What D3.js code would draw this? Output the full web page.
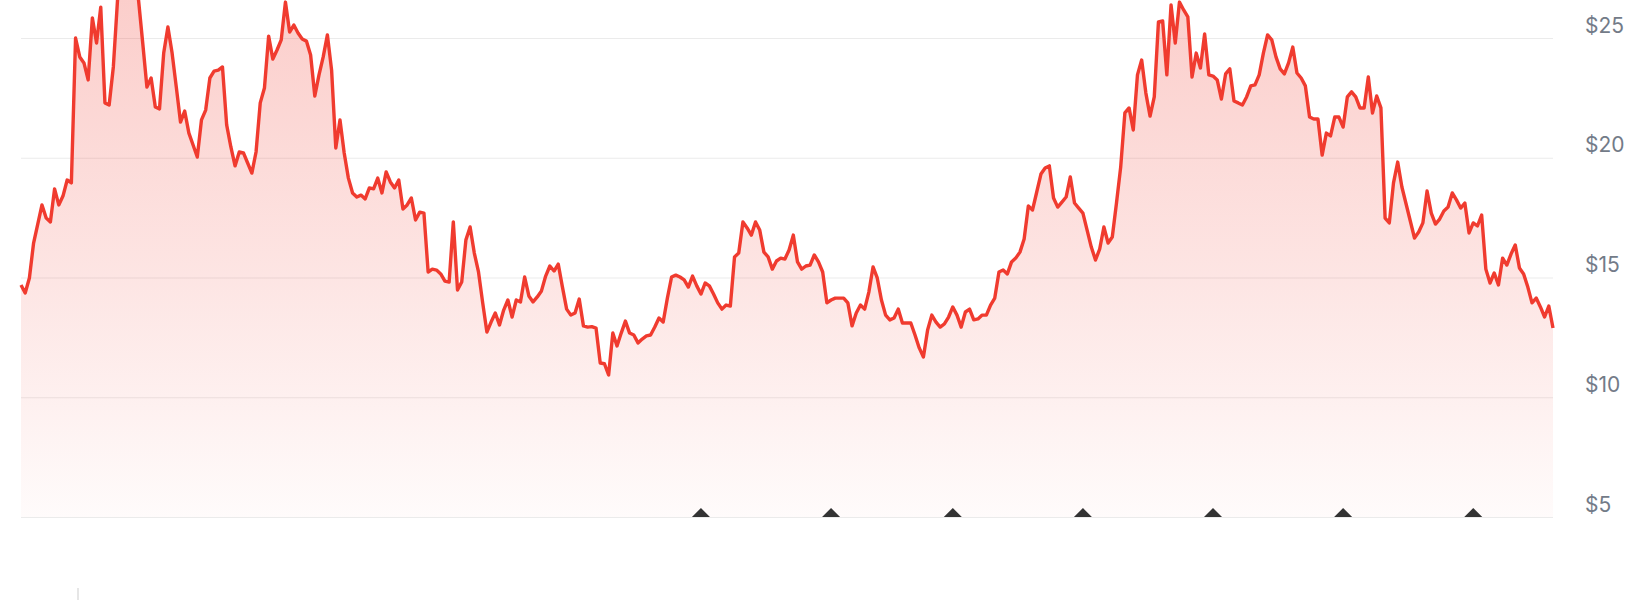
<!DOCTYPE html>
<html>
<head>
<meta charset="utf-8">
<script src="https://cdn.jsdelivr.net/npm/d3@7"></script>
<style>
  body { margin: 0; background: #fff; }
  svg { display: block; }
</style>
</head>
<body>
<div id="chart"></div>
<script>
// day of the period (0 = first day shown) and closing price
var days = [0,1,2,3,5,6,7,8,9,10,11,12,13,14,15,16,17,18,19,20,21,22,23,24,25,26,27,28,29,30,
  31,32,33,34,35,36,37,38,39,40,41,42,43,44,45,46,47,48,49,50,51,52,53,54,55,56,57,58,59,60,
  61,62,63,64,65,66,67,68,69,70,71,72,73,74,75,76,77,78,79,80,81,82,83,84,85,86,87,88,89,90,
  91,92,93,94,95,96,97,98,99,100,101,102,103,104,105,106,107,108,109,110,111,112,113,114,115,116,117,118,119,120,
  121,122,123,124,125,126,127,128,129,130,131,132,133,134,135,136,137,138,139,140,141,142,143,144,145,146,147,148,149,150,
  151,152,153,154,155,156,157,158,159,160,161,162,163,164,165,166,167,168,169,170,171,172,173,174,175,176,177,178,179,180,
  181,182,183,184,185,186,187,188,189,190,191,192,193,194,196,197,198,199,200,201,202,203,204,205,206,207,208,209,210,
  211,212,213,214,215,216,217,218,219,220,221,222,223,224,225,226,227,228,229,230,231,232,233,234,235,236,237,238,239,240,
  241,242,243,244,245,246,247,248,249,250,251,252,253,254,255,256,257,258,259,260,261,262,263,264,265,266,267,268,269,270,
  271,272,273,274,275,276,277,278,279,280,281,282,283,284,285,286,287,288,289,290,291,292,293,294,295,296,297,298,299,300,
  301,302,303,304,305,306,307,308,309,310,311,312,313,314,315,316,317,318,319,320,321,322,323,324,325,326,327,328,329,330,
  331,332,333,334,335,336,337,338,339,340,341,342,343,344,345,346,347,348,349,350,351,352,353,354,355,356,357,358,359,360,
  361,362,363,364,365];

var prices = [14.69,14.35,14.98,16.44,18.03,17.48,17.32,18.70,18.03,18.40,19.07,18.95,25.00,24.21,23.96,23.25,25.84,24.79,26.29,22.29,22.20,23.79,26.59,27.3,27.6,27.4,27.1,26.59,24.79,22.95,
  23.33,22.12,22.04,24.37,25.46,24.37,22.95,21.49,21.95,21.03,20.53,20.03,21.58,21.99,23.33,23.62,23.66,23.79,21.37,20.45,19.66,20.24,20.20,19.78,19.36,20.24,22.29,22.91,25.08,24.12,
  24.50,24.92,26.50,25.25,25.54,25.21,24.96,24.87,24.29,22.58,23.46,24.21,25.13,23.66,20.41,21.58,20.20,19.15,18.53,18.36,18.44,18.28,18.74,18.70,19.15,18.53,19.41,18.99,18.74,19.07,
  17.86,18.03,18.32,17.40,17.73,17.69,15.23,15.35,15.31,15.15,14.85,14.81,17.32,14.48,14.81,16.57,17.11,16.02,15.23,13.94,12.72,13.14,13.52,13.02,13.64,14.06,13.35,14.06,13.98,15.02,
  14.23,13.98,14.19,14.44,15.06,15.48,15.27,15.56,14.60,13.68,13.43,13.52,14.10,12.98,12.93,12.95,12.89,11.43,11.40,10.93,12.68,12.14,12.68,13.18,12.68,12.60,12.27,12.43,12.56,12.60,
  12.93,13.31,13.14,14.14,15.02,15.10,15.02,14.90,14.60,15.06,14.65,14.31,14.77,14.65,14.31,13.94,13.68,13.85,13.81,15.86,16.02,17.32,17.07,16.77,17.32,16.98,16.06,15.86,15.35,15.69,
  15.81,15.77,16.15,16.77,15.65,15.35,15.48,15.52,15.94,15.65,15.23,13.94,14.06,14.14,14.14,13.94,12.98,13.52,13.85,13.68,14.39,15.44,14.98,14.06,13.43,13.23,13.31,13.68,13.10,
  13.10,13.10,12.60,12.06,11.68,12.81,13.43,13.14,12.93,13.06,13.35,13.77,13.43,12.93,13.56,13.68,13.23,13.27,13.43,13.43,13.85,14.14,15.23,15.31,15.15,15.65,15.81,16.06,16.61,17.99,
  17.82,18.57,19.32,19.57,19.66,18.32,17.94,18.15,18.36,19.20,18.11,17.90,17.69,16.98,16.27,15.73,16.19,17.11,16.44,16.69,18.11,19.61,21.87,22.08,21.16,23.46,24.08,22.70,21.74,22.54,
  25.67,25.71,23.46,26.38,24.79,26.50,26.17,25.88,23.37,24.37,23.75,25.17,23.46,23.41,23.25,22.45,23.50,23.71,22.37,22.29,22.20,22.54,23.00,23.04,23.46,24.37,25.13,24.92,24.21,23.71,
  23.50,23.96,24.62,23.54,23.33,23.00,21.70,21.62,21.62,20.11,21.03,20.91,21.70,21.70,21.28,22.54,22.75,22.54,22.08,22.08,23.37,21.87,22.58,22.08,17.48,17.28,18.95,19.82,18.78,18.07,
  17.36,16.65,16.90,17.28,18.61,17.69,17.23,17.44,17.78,17.94,18.53,18.24,17.90,18.11,16.86,17.28,17.15,17.61,15.35,14.77,15.19,14.69,15.81,15.52,15.98,16.36,15.40,15.15,14.60,13.94,
  14.14,13.77,13.35,13.81,12.89];

// days carrying an event marker on the baseline
var markerDays = [162, 193, 222, 253, 284, 315, 346];

var yTicks = [5, 10, 15, 20, 25];

var width = 1644, height = 600;
var plotLeft = 21, plotRight = 1553, plotTop = 38, plotBottom = 517;

var data = days.map(function (d, i) { return {day: d, price: prices[i]}; });

var svg = d3.select("#chart")
  .append("svg")
    .attr("width", width)
    .attr("height", height);

var x = d3.scaleLinear()
  .domain([0, 365])
  .range([plotLeft, plotRight]);

var y = d3.scaleLinear()
  .domain([5, 25])
  .range([plotBottom, plotTop]);

// gradient under the line
var grad = svg.append("defs").append("linearGradient")
    .attr("id", "fillGrad")
    .attr("gradientUnits", "userSpaceOnUse")
    .attr("x1", 0).attr("y1", 0)
    .attr("x2", 0).attr("y2", plotBottom);
grad.append("stop").attr("offset", "0%").attr("stop-color", "#f03b2f").attr("stop-opacity", 0.25);
grad.append("stop").attr("offset", "55%").attr("stop-color", "#f03b2f").attr("stop-opacity", 0.13);
grad.append("stop").attr("offset", "100%").attr("stop-color", "#f03b2f").attr("stop-opacity", 0.02);

// grid + price labels on the right
var yAxis = svg.append("g")
    .attr("transform", "translate(" + plotLeft + ",0)")
    .call(d3.axisRight(y)
      .tickValues(yTicks)
      .tickSize(plotRight - plotLeft)
      .tickPadding(32)
      .tickFormat(function (d) { return "$" + d; }));
yAxis.select(".domain").remove();
yAxis.selectAll(".tick line")
    .attr("stroke", "#ebebeb")
    .attr("stroke-width", 1.2);
yAxis.selectAll(".tick text")
    .attr("dy", null)
    .attr("y", -6)
    .attr("fill", "#737b88")
    .style("font-family", "Inter, 'Noto Sans', sans-serif")
    .style("font-size", "21px");

// area
svg.append("path")
    .datum(data)
    .attr("fill", "url(#fillGrad)")
    .attr("d", d3.area()
      .x(function (d) { return x(d.day); })
      .y0(plotBottom)
      .y1(function (d) { return y(d.price); }));

// price line
svg.append("path")
    .datum(data)
    .attr("fill", "none")
    .attr("stroke", "#f03b2f")
    .attr("stroke-width", 3.4)
    .attr("stroke-linejoin", "round")
    .attr("d", d3.line()
      .x(function (d) { return x(d.day); })
      .y(function (d) { return y(d.price); }));

// event markers
svg.append("g")
  .selectAll("path")
  .data(markerDays)
  .enter()
  .append("path")
    .attr("d", function (d) {
      var cx = x(d), b = y(5);
      return "M" + (cx - 9) + "," + b + "L" + cx + "," + (b - 9) + "L" + (cx + 9) + "," + b + "Z";
    })
    .attr("fill", "#333");

// little tick at the bottom left
svg.append("line")
    .attr("x1", 78).attr("x2", 78)
    .attr("y1", 588).attr("y2", height)
    .attr("stroke", "#e6e6e6")
    .attr("stroke-width", 2);
</script>
</body>
</html>
